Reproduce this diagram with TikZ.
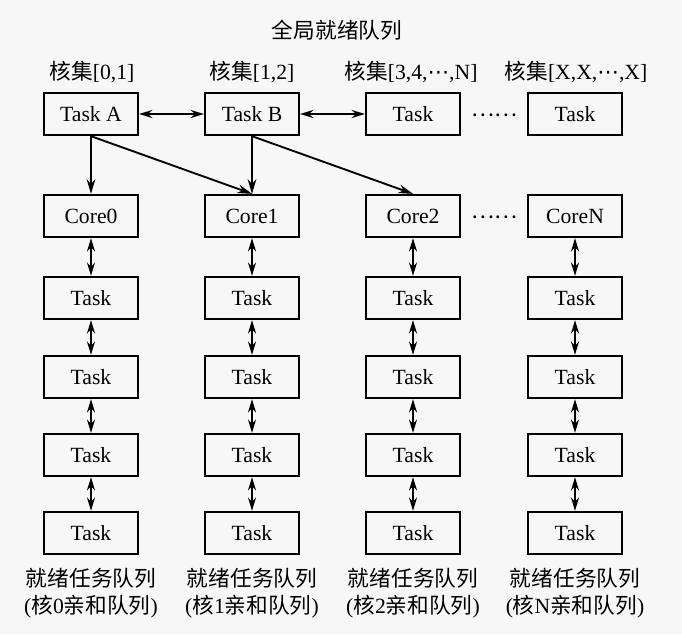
\documentclass[tikz,border=0pt]{standalone}
\usepackage{fontspec}
\setmainfont{Liberation Serif}
\newfontfamily\cjk{Noto Sans CJK SC}
\newfontfamily\sym{DejaVu Sans}
\usetikzlibrary{arrows.meta,positioning,calc}

\begin{document}
\begin{tikzpicture}[x=0.03cm,y=-0.03cm,
	txt/.style={font=\fontsize{18.5}{23}\selectfont},
	box/.style={txt,draw,line width=1.7pt,minimum width=2.82cm,minimum height=1.27cm,inner sep=0pt},
	link/.style={line width=1.6pt,-{Stealth[length=4.4mm,width=2.6mm]}},
	both/.style={line width=1.6pt,{Stealth[length=4mm,width=2.4mm]}-{Stealth[length=4mm,width=2.4mm]}}]
	% background
	\fill[black!3] (0,0) rectangle (682,634);
	\useasboundingbox (0,0) rectangle (682,634);
	% global ready queue
	\node[txt] (title) at (337,30) {\cjk 全局就绪队列};
	\node[txt] (set0) at (92,72) {{\cjk 核集}[0,1]};
	\node[txt] (set1) at (252,72) {{\cjk 核集}[1,2]};
	\node[txt] (set2) at (411,72) {{\cjk 核集}[3,4,{\sym ⋯},N]};
	\node[txt] (set3) at (576,72) {{\cjk 核集}[X,X,{\sym ⋯},X]};
	\node[box] (ta) at (91,114) {Task A};
	\node[box] (tb) at (252,114) {Task B};
	\node[box] (tc) at (413,114) {Task};
	\node[box] (td) at (575,114) {Task};
	\node[txt] (dots0) at (494,115) {\cjk ……};
	\draw[both] (ta) -- (tb);
	\draw[both] (tb) -- (tc);
	% per-core ready queues
	\foreach \i/\x/\c in {0/91/Core0,1/252/Core1,2/413/Core2,3/575/CoreN} {
		\node[box] (core\i) at (\x,216) {\c};
		\foreach \j/\y in {1/298,2/377,3/455,4/533}
			\node[box] (q\i\j) at (\x,\y) {Task};
		\draw[both] (core\i) -- (q\i1);
		\draw[both] (q\i1) -- (q\i2);
		\draw[both] (q\i2) -- (q\i3);
		\draw[both] (q\i3) -- (q\i4);
		\node[txt,align=center] (name\i) at (\x,593) {{\cjk 就绪任务队列}\\({\cjk 核}\ifnum\i=3 N\else\i\fi{\cjk 亲和队列})};
	}
	\node[txt] (dots1) at (494,217) {\cjk ……};
	% affinity
	\draw[link] (ta.south) -- (core0.north);
	\draw[link] (ta.south) -- (core1.north);
	\draw[link] (tb.south) -- (core1.north);
	\draw[link] (tb.south) -- (core2.north);
\end{tikzpicture}
\end{document}
